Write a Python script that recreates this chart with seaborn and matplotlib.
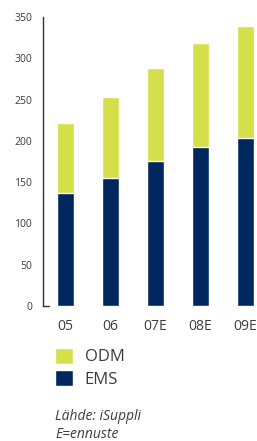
import pandas as pd
import numpy as np
import matplotlib.pyplot as plt
import seaborn as sns
from matplotlib.patches import Patch

# Données (milliards USD)
years = ["05", "06", "07E", "08E", "09E"]
ems = [137, 155, 176, 192, 203]
odm = [85, 98, 112, 127, 136]

ODM_COLOR = "#d5df4a"
EMS_COLOR = "#00285f"
TEXT_COLOR = "#3c3c3c"

df = pd.DataFrame({"year": years, "EMS": ems, "ODM": odm})
df["total"] = df["EMS"] + df["ODM"]

sns.set_style("white")
plt.rcParams["font.family"] = ["Open Sans", "DejaVu Sans"]

fig = plt.figure(figsize=(2.57, 4.41), dpi=100)
ax = fig.add_axes([43 / 257, 1 - 306 / 441, 1 - 43 / 257, (306 - 17) / 441])

# barres empilées : total (ODM) derrière, EMS devant
sns.barplot(data=df, x="year", y="total", color=ODM_COLOR, width=0.378,
            saturation=1, ax=ax)
sns.barplot(data=df, x="year", y="EMS", color=EMS_COLOR, width=0.378,
            saturation=1, ax=ax)

ax.set_xlim(-0.5, 4.26)
ax.set_ylim(0, 350)
ax.set_yticks(range(0, 351, 50))
ax.set_xlabel("")
ax.set_ylabel("")
sns.despine(ax=ax, top=True, right=True, bottom=True)
ax.spines["left"].set_color("#333333")
ax.spines["left"].set_linewidth(1.0)
ax.tick_params(axis="y", direction="out", length=5, width=1, color="#888888",
               labelsize=7.5, labelcolor=TEXT_COLOR, pad=3)
ax.tick_params(axis="x", length=0, labelsize=10, labelcolor=TEXT_COLOR, pad=9)
# petit trait à la base de l'axe
ax.plot([-0.5, -0.37], [0, 0], color="#333333", lw=1, clip_on=False)

handles = [Patch(facecolor=ODM_COLOR, label="ODM"),
           Patch(facecolor=EMS_COLOR, label="EMS")]
fig.legend(handles=handles, loc="upper left", bbox_to_anchor=(43 / 257, 1 - 336 / 441),
           frameon=False, fontsize=12, handlelength=1.1, handleheight=1.1,
           handletextpad=0.7, labelspacing=0.3, borderpad=0.2,
           labelcolor=TEXT_COLOR)

fig.text(55 / 257, 1 - 416 / 441, "Lähde: iSuppli", fontsize=10, style="italic",
         color=TEXT_COLOR, va="center")
fig.text(55 / 257, 1 - 434 / 441, "E=ennuste", fontsize=10, style="italic",
         color=TEXT_COLOR, va="center")

plt.savefig("out.png", dpi=100)
